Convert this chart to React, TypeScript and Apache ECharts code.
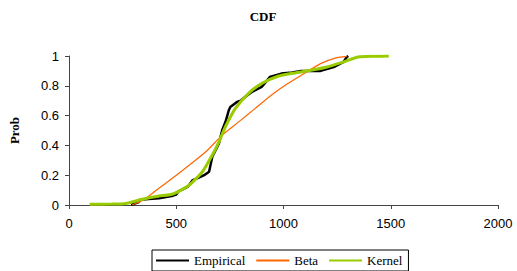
import React, { useEffect, useRef } from "react";
import * as echarts from "echarts";

const xTicks = [0, 500, 1000, 1500, 2000];
const yTicks = [0, 0.2, 0.4, 0.6, 0.8, 1];

const empX = [290, 301, 325, 332, 370, 420, 485, 500, 508, 530, 554, 577, 600, 630, 653, 660, 668, 699, 714, 730, 745, 752, 783, 800, 821, 852, 898, 920, 936, 990, 1040, 1081, 1173, 1234, 1280, 1295, 1302];
const empY = [0, 0.007, 0.02, 0.035, 0.04, 0.045, 0.0625, 0.07, 0.089, 0.105, 0.123, 0.167, 0.18, 0.2, 0.223, 0.27, 0.324, 0.413, 0.502, 0.56, 0.636, 0.658, 0.692, 0.70, 0.725, 0.759, 0.792, 0.83, 0.859, 0.882, 0.89, 0.9, 0.9, 0.926, 0.96, 0.993, 1.0];

const betaX = [294, 347, 408, 500, 561, 638, 714, 791, 867, 943, 1020, 1096, 1173, 1249, 1295];
const betaY = [0, 0.033, 0.1, 0.2, 0.268, 0.357, 0.469, 0.558, 0.647, 0.737, 0.815, 0.882, 0.949, 0.989, 0.998];

const kernX = [96, 200, 255, 347, 420, 485, 561, 622, 668, 699, 729, 775, 836, 898, 974, 1050, 1127, 1203, 1280, 1349, 1420, 1491];
const kernY = [0.005, 0.006, 0.008, 0.04, 0.06, 0.074, 0.134, 0.223, 0.335, 0.424, 0.525, 0.647, 0.748, 0.815, 0.864, 0.886, 0.904, 0.926, 0.96, 0.993, 0.998, 1.0];

const names = ["Empirical", "Beta", "Kernel"];
const colors = ["#000000", "#FF6600", "#99CC00"];

const pairs = (xs: number[], ys: number[]) => xs.map((x, i) => [x, ys[i]]);

export default function App() {
  const ref = useRef<HTMLDivElement>(null);
  useEffect(() => {
    if (!ref.current) return;
    const chart = echarts.init(ref.current, null, { renderer: "svg" });
    chart.setOption({
      animation: false,
      backgroundColor: "#fff",
      graphic: [
        {
          type: "text",
          x: 263,
          y: 16,
          style: {
            text: "CDF",
            font: "bold 13px 'Liberation Serif'",
            fill: "#000",
            textAlign: "center",
            textVerticalAlign: "middle",
          },
        },
      ],
      legend: {
        data: names,
        left: 152,
        top: 250,
        orient: "horizontal",
        itemWidth: 33,
        itemHeight: 14,
        itemGap: 10,
        borderColor: "#000",
        borderWidth: 1,
        borderRadius: 0,
        padding: [4, 6, 4, 3],
        itemStyle: { opacity: 0 },
        textStyle: { fontFamily: "Liberation Serif", fontSize: 13, color: "#000" },
      },
      grid: { left: 66, right: 19, top: 56, bottom: 66, containLabel: false },
      xAxis: {
        type: "value",
        min: xTicks[0],
        max: xTicks[xTicks.length - 1],
        interval: 500,
        axisLine: { show: true, lineStyle: { color: "#444", width: 1 } },
        axisTick: { show: true, length: 4, lineStyle: { color: "#444" } },
        axisLabel: {
          margin: 12,
          fontFamily: "Liberation Sans",
          fontSize: 13,
          color: "#000",
          formatter: (v: number) => String(v),
        },
        splitLine: { show: false },
      },
      yAxis: {
        type: "value",
        min: yTicks[0],
        max: yTicks[yTicks.length - 1],
        interval: 0.2,
        name: "Prob",
        nameLocation: "middle",
        nameGap: 48,
        nameTextStyle: { fontFamily: "Liberation Serif", fontWeight: "bold", fontSize: 13, color: "#000" },
        axisLine: { show: true, lineStyle: { color: "#444", width: 1 } },
        axisTick: { show: true, length: 4, lineStyle: { color: "#444" } },
        axisLabel: {
          margin: 10,
          fontFamily: "Liberation Sans",
          fontSize: 13,
          color: "#000",
          formatter: (v: number) => String(Math.round(v * 10) / 10),
        },
        splitLine: { show: false },
      },
      series: [
        {
          name: names[0],
          type: "line",
          data: pairs(empX, empY),
          symbol: "none",
          lineStyle: { color: colors[0], width: 2.5 },
          itemStyle: { color: colors[0] },
        },
        {
          name: names[1],
          type: "line",
          data: pairs(betaX, betaY),
          symbol: "none",
          smooth: 0.2,
          lineStyle: { color: colors[1], width: 1.2 },
          itemStyle: { color: colors[1] },
        },
        {
          name: names[2],
          type: "line",
          data: pairs(kernX, kernY),
          symbol: "none",
          smooth: 0.2,
          lineStyle: { color: colors[2], width: 3 },
          itemStyle: { color: colors[2] },
        },
      ],
    });
    return () => chart.dispose();
  }, []);
  return <div ref={ref} style={{ position: "absolute", left: 0, top: 0, width: 517, height: 271 }} />;
}
